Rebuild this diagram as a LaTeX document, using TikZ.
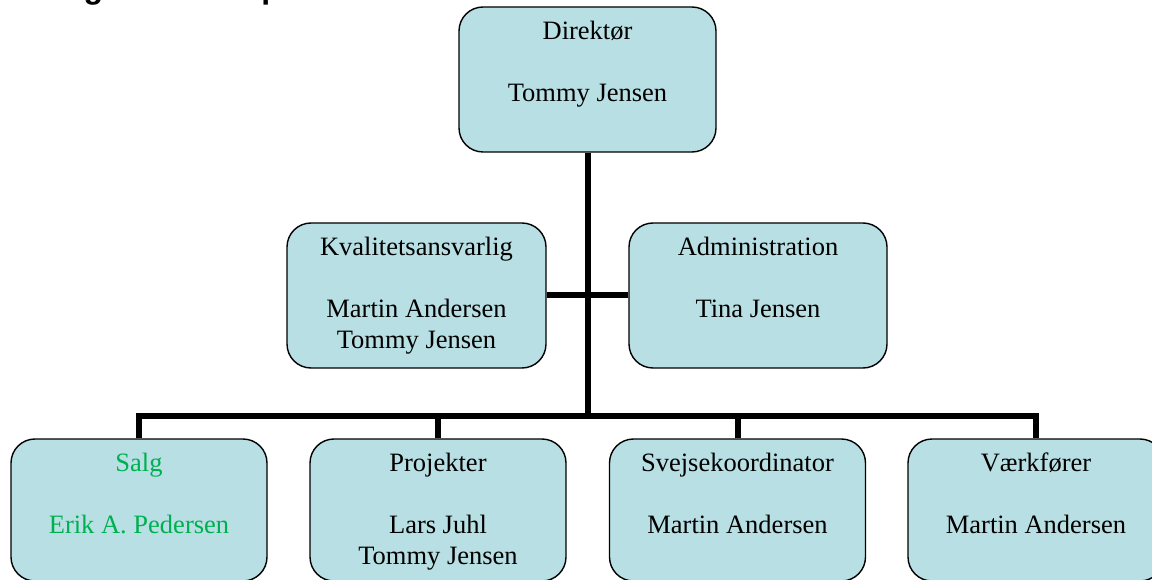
\documentclass[tikz,border=0pt]{standalone}
\usepackage{fontspec}
\setmainfont{Liberation Serif}
\newfontfamily\headfont{Liberation Sans}
\definecolor{boxblue}{HTML}{B8DFE3}
\definecolor{salggreen}{HTML}{00B050}

\begin{document}
\begin{tikzpicture}[x=1pt, y=-1pt,
    unit/.style={draw=black, line width=1.4pt, fill=boxblue, rounded corners=24pt,
      minimum width=257pt, minimum height=145pt, inner sep=0pt},
    low/.style={unit, minimum width=256pt, minimum height=142pt},
    txt/.style={anchor=north, align=center, inner sep=0pt, font=\fontsize{26.5}{31}\selectfont},
    link/.style={line width=6pt, line join=miter}]
      \useasboundingbox (0,0) rectangle (1152,580);
      \clip (0,0) rectangle (1152,580);
      \node[anchor=base west, inner sep=0pt, font=\headfont\bfseries\fontsize{32}{38}\selectfont] (title) at (46,-1.5) {Organisationsplan};
      % boxes
      \node[unit] (dir) at (587.5,79.5) {};
      \node[unit, minimum width=259pt] (kval) at (416.5,295.5) {};
      \node[unit, minimum width=258pt] (adm) at (758,295.5) {};
      \node[low] (salg) at (139,510) {};
      \node[low] (proj) at (438,510) {};
      \node[low] (svejse) at (737.5,510) {};
      \node[low] (vaerk) at (1036,510) {};
      \coordinate (bus) at (587.5,415.5);
      % lines
      \draw[link] (dir) -- (dir |- bus);
      \draw[link] (kval) -- (adm);
      \draw[link] (salg) |- (bus) -| (vaerk);
      \draw[link] (proj) -- (proj |- bus);
      \draw[link] (svejse) -- (svejse |- bus);
      % texts
      \node[txt] (dirtxt) at ([yshift=-11pt]dir.north) {\strut Direktør\\[31pt]Tommy Jensen};
      \node[txt] (kvaltxt) at ([yshift=-11pt]kval.north) {\strut Kvalitetsansvarlig\\[31pt]Martin Andersen\\Tommy Jensen};
      \node[txt] (admtxt) at ([yshift=-11pt]adm.north) {\strut Administration\\[31pt]Tina Jensen};
      \node[txt, text=salggreen] (salgtxt) at ([yshift=-11pt]salg.north) {\strut Salg\\[31pt]Erik A. Pedersen};
      \node[txt] (projtxt) at ([yshift=-11pt]proj.north) {\strut Projekter\\[31pt]Lars Juhl\\Tommy Jensen};
      \node[txt] (svejsetxt) at ([yshift=-11pt]svejse.north) {\strut Svejsekoordinator\\[31pt]Martin Andersen};
      \node[txt] (vaerktxt) at ([yshift=-11pt]vaerk.north) {\strut Værkfører\\[31pt]Martin Andersen};
    \end{tikzpicture}
\end{document}
